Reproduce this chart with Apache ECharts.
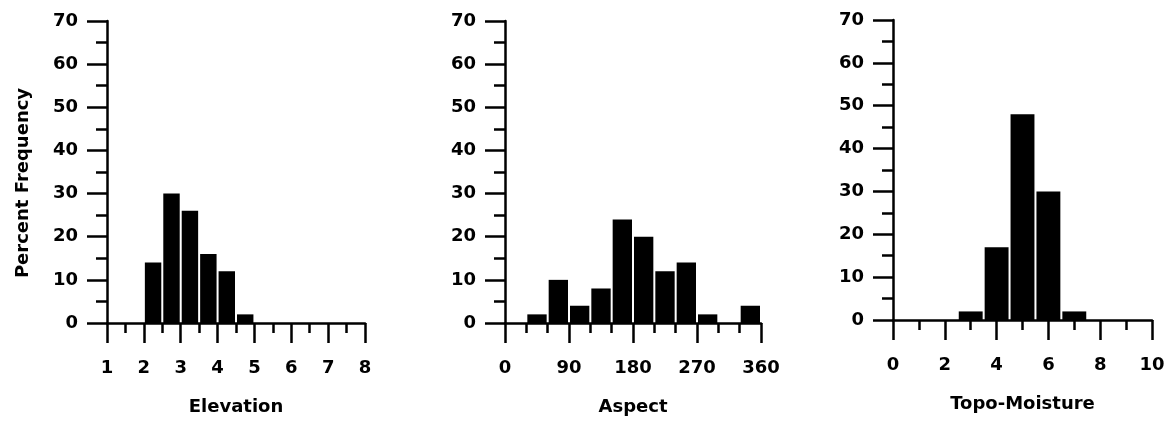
<!DOCTYPE html>
<html>
<head>
<meta charset="utf-8">
<script src="https://cdn.jsdelivr.net/npm/echarts@6/dist/echarts.min.js"></script>
<style>
html,body{margin:0;padding:0;background:#fff;}
#chart{width:1168px;height:421px;}
</style>
</head>
<body>
<div id="chart"></div>
<script>
// ---- data ----
const yTicks = [0, 10, 20, 30, 40, 50, 60, 70];
const elevEdges = [1, 1.5, 2, 2.5, 3, 3.5, 4, 4.5, 5, 5.5, 6, 6.5, 7, 7.5, 8];
const elevPct = [0, 0, 14, 30, 26, 16, 12, 2, 0, 0, 0, 0, 0, 0];
const aspectEdges = [0, 30, 60, 90, 120, 150, 180, 210, 240, 270, 300, 330, 360];
const aspectPct = [0, 2, 10, 4, 8, 24, 20, 12, 14, 2, 0, 4];
const moistEdges = [0.5, 1.5, 2.5, 3.5, 4.5, 5.5, 6.5, 7.5, 8.5, 9.5];
const moistPct = [0, 0, 2, 17, 48, 30, 2, 0, 0];
const xNames = ['Elevation', 'Aspect', 'Topo-Moisture'];
const yName = 'Percent Frequency';

const FONT = 'DejaVu Sans';
const FS = 18;
const FW = 'bold';
const black = '#000';

function binData(edges, vals) {
  return vals.map((v, i) => [edges[i], edges[i + 1], v]);
}

const grids = [
  {left: 107, top: 21, width: 258, height: 302, outerBoundsMode: 'none', containLabel: false},
  {left: 505, top: 21, width: 256, height: 302, outerBoundsMode: 'none', containLabel: false},
  {left: 893, top: 20, width: 259, height: 300, outerBoundsMode: 'none', containLabel: false}
];

const xCfg = [
  {min: 1, max: 8, interval: 1, minor: 2},
  {min: 0, max: 360, interval: 90, minor: 3},
  {min: 0, max: 10, interval: 2, minor: 2}
];

function xAxis(i) {
  const c = xCfg[i];
  return {
    type: 'value', gridIndex: i, min: c.min, max: c.max, interval: c.interval,
    name: xNames[i], nameLocation: 'middle', nameGap: 75,
    nameTextStyle: {fontFamily: FONT, fontSize: FS, fontWeight: FW, color: black},
    axisLine: {show: true, onZero: false, lineStyle: {color: black, width: 2.5}},
    axisTick: {show: true, length: 20, lineStyle: {color: black, width: 2.5}},
    minorTick: {show: true, splitNumber: c.minor, length: 10, lineStyle: {color: black, width: 2.5}},
    splitLine: {show: false}, minorSplitLine: {show: false},
    axisLabel: {fontFamily: FONT, fontSize: FS, fontWeight: FW, color: black, margin: 36}
  };
}

function yAxis(i) {
  const a = {
    type: 'value', gridIndex: i, min: yTicks[0], max: yTicks[yTicks.length - 1], interval: 10,
    axisLine: {show: true, lineStyle: {color: black, width: 2.5}},
    axisTick: {show: true, length: 20, lineStyle: {color: black, width: 2.5}},
    minorTick: {show: true, splitNumber: 2, length: 11, lineStyle: {color: black, width: 2.5}},
    splitLine: {show: false}, minorSplitLine: {show: false},
    axisLabel: {fontFamily: FONT, fontSize: FS, fontWeight: FW, color: black, margin: 29}
  };
  if (i === 0) {
    a.name = yName;
    a.nameLocation = 'middle';
    a.nameGap = 75;
    a.nameTextStyle = {fontFamily: FONT, fontSize: FS, fontWeight: FW, color: black, padding: [0, 22, 0, 0]};
  }
  return a;
}

function renderBar(params, api) {
  const v = api.value(2);
  if (!v) return null;
  const p0 = api.coord([api.value(0), v]);
  const p1 = api.coord([api.value(1), 0]);
  return {
    type: 'rect',
    shape: {x: p0[0] + 1, y: p0[1], width: p1[0] - p0[0] - 2, height: p1[1] - p0[1]},
    style: {fill: black}
  };
}

const datasets = [binData(elevEdges, elevPct), binData(aspectEdges, aspectPct), binData(moistEdges, moistPct)];

const chart = echarts.init(document.getElementById('chart'), null, {renderer: 'canvas'});
chart.setOption({
  backgroundColor: '#fff',
  animation: false,
  grid: grids,
  xAxis: [0, 1, 2].map(xAxis),
  yAxis: [0, 1, 2].map(yAxis),
  series: datasets.map((d, i) => ({
    type: 'custom', xAxisIndex: i, yAxisIndex: i,
    renderItem: renderBar,
    encode: {x: [0, 1], y: 2},
    data: d, z: 1
  }))
});
</script>
</body>
</html>
